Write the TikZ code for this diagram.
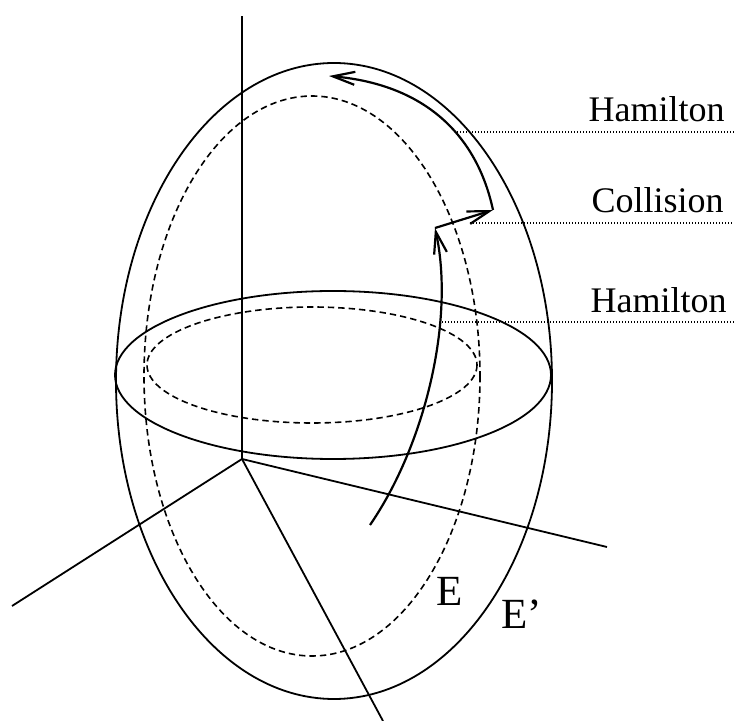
\documentclass[tikz,border=0pt]{standalone}
\usepackage{fontspec}
\setmainfont{Liberation Serif}
\usetikzlibrary{arrows.meta}

\begin{document}
\begin{tikzpicture}[x=0.5pt, y=-0.5pt, >={Straight Barb[length=11pt,width=6.5pt]},
    shell/.style={line width=0.9pt},
    innershell/.style={line width=0.8pt, dash pattern=on 3.2pt off 2pt},
    leader/.style={line width=0.6pt, dash pattern=on 0.7pt off 0.8pt},
    orbit/.style={line width=1.1pt},
    lbl/.style={font=\fontsize{18}{20}\selectfont, anchor=base east, inner sep=0pt},
    elbl/.style={font=\fontsize{21.5}{24}\selectfont, anchor=base west, inner sep=0pt}]
    \useasboundingbox (0,0) rectangle (734,721);

    % Axes
    \coordinate (O) at (242,459);
    \coordinate (zt) at (242,16);
    \coordinate (xl) at (12,606);
    \coordinate (yb) at (383,721);
    \coordinate (xr) at (607,547);
    \draw[shell] (O) -- (zt);
    \draw[shell] (O) -- (xl);
    \draw[shell] (O) -- (yb);
    \draw[shell] (O) -- (xr);

    % Energy surface E' (solid) and E (dashed)
    \draw[shell] (334,381) ellipse [x radius=218, y radius=318];
    \draw[shell] (333,375) ellipse [x radius=218, y radius=84];
    \draw[innershell] (312,376) ellipse [x radius=168, y radius=280];
    \draw[innershell] (312,365) ellipse [x radius=165, y radius=58];

    % Trajectory: Hamilton - collision - Hamilton
    \coordinate (s0) at (370,525);
    \coordinate (s1) at (435,228);
    \coordinate (s2) at (493,210);
    \coordinate (s3) at (329,76);
    \draw[orbit, ->] (s0) .. controls (425,445) and (455,320) .. (s1);
    \draw[orbit, ->] (s1) -- (s2);
    \draw[orbit, ->] (s2) .. controls (478,140) and (430,85) .. (s3);

    % Leaders and labels
    \coordinate (h1) at (457,132);
    \coordinate (h1e) at (734,132);
    \coordinate (c1) at (470,223);
    \coordinate (c1e) at (734,223);
    \coordinate (h2) at (442,322);
    \coordinate (h2e) at (734,322);
    \draw[leader] (h1) -- (h1e);
    \draw[leader] (c1) -- (c1e);
    \draw[leader] (h2) -- (h2e);
    \node[lbl] (hamtop) at (725,122) {Hamilton};
    \node[lbl] (coll) at (724,213) {Collision};
    \node[lbl] (hambot) at (727,313) {Hamilton};

    % Surface labels
    \node[elbl] (lblE) at (436,605) {E};
    \node[elbl] (lblEp) at (501,628) {E'};
\end{tikzpicture}
\end{document}
